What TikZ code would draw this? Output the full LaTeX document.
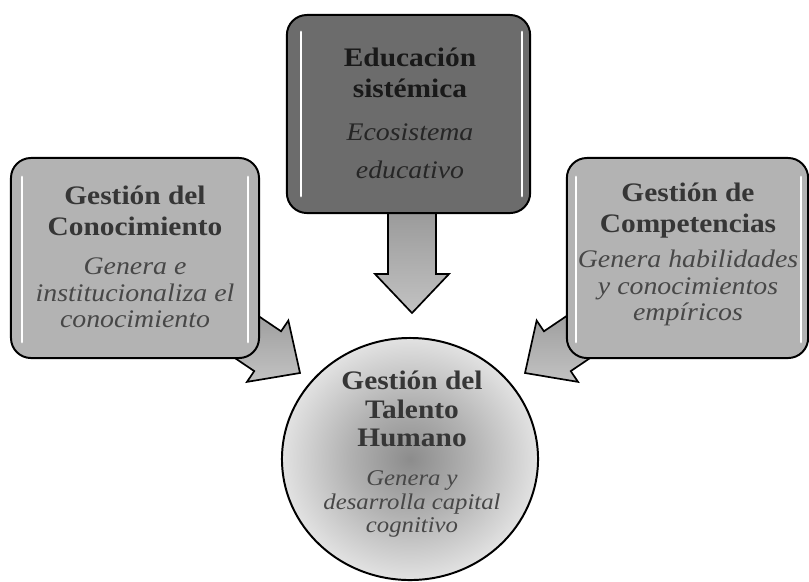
\documentclass[tikz,border=0pt]{standalone}
\usepackage{fontspec}
\setmainfont{Liberation Serif}
\usetikzlibrary{calc,positioning,shapes.geometric}
\definecolor{boxdark}{HTML}{6C6C6C}
\definecolor{boxlight}{HTML}{B3B3B3}
\definecolor{arrowtop}{HTML}{959595}
\definecolor{arrowbot}{HTML}{C2C2C2}
\definecolor{textdark}{HTML}{363636}
\definecolor{textsoft}{HTML}{474747}
\definecolor{hubin}{HTML}{8C8C8C}
\definecolor{hubmid}{HTML}{B2B2B2}
\definecolor{hubout}{HTML}{E2E2E2}
\pgfdeclareradialshading{hubshade}{\pgfpoint{0bp}{0bp}}{color(0bp)=(hubin); color(12bp)=(hubmid); color(25bp)=(hubout); color(50bp)=(hubout)}
\tikzset{%
	topbox/.style    = {draw, line width=1.4pt, rounded corners=0.5cm, fill=boxdark, minimum width=6.08cm, minimum height=4.95cm},
	sidebox/.style   = {draw, line width=1.4pt, rounded corners=0.5cm, fill=boxlight, minimum width=6.2cm, minimum height=5cm},
	hub/.style       = {draw, line width=1.4pt, ellipse, shading=hubshade, minimum width=6.4cm, minimum height=6.05cm},
	headtext/.style  = {font=\fontsize{19}{22}\selectfont\bfseries, align=center, text=textdark, xscale=1.1},
	subtext/.style   = {font=\fontsize{18}{19}\selectfont\itshape, align=center, text=textsoft, xscale=1.1},
	blockarrow/.style= {draw, line width=1.2pt, top color=arrowtop, bottom color=arrowbot},
	gleam/.style     = {white, line width=2pt, line cap=round},
}
\begin{document}
\begin{tikzpicture}[x=0.025cm, y=-0.025cm]
		\useasboundingbox[fill=white] (0,0) rectangle (809,581);
		% arrows first, the boxes hide their tails
		\coordinate (tipT) at (412,313);
		\coordinate (tipL) at (300,373);
		\coordinate (tipR) at (525,373);
		\begin{scope}[shift={(tipT)}, rotate=-90]
			\draw[blockarrow] (-115,-24) -- (-39,-24) -- (-39,-37) -- (0,0) -- (-39,37) -- (-39,24) -- (-115,24) -- cycle;
		\end{scope}
		\begin{scope}[shift={(tipL)}, rotate=-34]
			\draw[blockarrow] (-100,-24) -- (-39,-24) -- (-39,-37) -- (0,0) -- (-39,37) -- (-39,24) -- (-100,24) -- cycle;
		\end{scope}
		\begin{scope}[shift={(tipR)}, rotate=-146]
			\draw[blockarrow] (-100,-24) -- (-39,-24) -- (-39,-37) -- (0,0) -- (-39,37) -- (-39,24) -- (-100,24) -- cycle;
		\end{scope}
		
		\node[topbox] (edu) at (408.5,114) {};
		\node[sidebox] (know) at (135,258) {};
		\node[sidebox, minimum width=6.03cm] (comp) at (687.5,258) {};
		\node[hub] (talent) at (410,459) {};
		
		\draw[gleam] (301,32) -- (301,196);
		\draw[gleam] (522,32) -- (522,196);
		\draw[gleam] (22,177) -- (22,342);
		\draw[gleam] (248,177) -- (248,342);
		\draw[gleam] (576,177) -- (576,342);
		\draw[gleam] (801,177) -- (801,342);
		
		\node[headtext, text=black!90] (eduT) at (410,73) {Educación\\sistémica};
		\node[subtext, text=black!85, font=\fontsize{18}{27}\selectfont\itshape] (eduS) at (410,151) {Ecosistema\\educativo};
		\node[headtext] (knowT) at (135,211) {Gestión del\\Conocimiento};
		\node[subtext] (knowS) at (135,293) {Genera e\\institucionaliza el\\conocimiento};
		\node[headtext] (compT) at (688,211) {Gestión de\\Competencias};
		\node[subtext] (compS) at (688,288) {Genera habilidades\\y conocimientos\\empíricos};
		\node[headtext, font=\fontsize{19}{20.5}\selectfont\bfseries] (talentT) at (412,409) {Gestión del\\Talento\\Humano};
		\node[subtext, font=\fontsize{16}{16.5}\selectfont\itshape, text=black!72] (talentS) at (412,504) {Genera y\\desarrolla capital\\cognitivo};
\end{tikzpicture}
\end{document}
